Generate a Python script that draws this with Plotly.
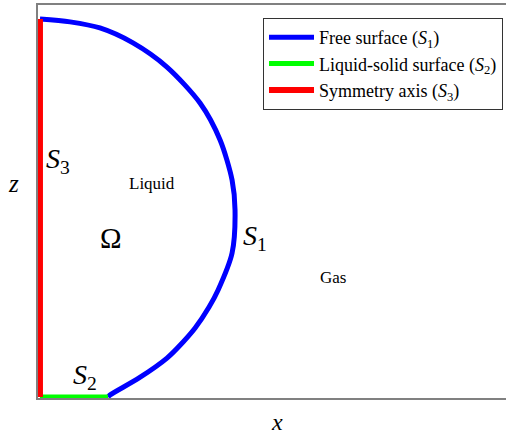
import plotly.graph_objects as go

# Free surface S1, in axis units
s1_x = [0.0, 0.153, 0.305, 0.473, 0.646, 0.814, 0.916, 0.977, 0.992, 0.977, 0.906, 0.860, 0.789, 0.728, 0.646, 0.504, 0.356, 0.346]
s1_z = [1.924, 1.909, 1.878, 1.802, 1.679, 1.496, 1.308, 1.104, 0.952, 0.733, 0.545, 0.458, 0.351, 0.280, 0.198, 0.097, 0.010, 0.0]

# Liquid-solid surface S2
s2_x = [0.0, 0.346]
s2_z = [0.0, 0.0]

# Symmetry axis S3
s3_x = [0.0, 0.0]
s3_z = [0.0, 1.924]

names = ["Free surface (<i>S</i><sub>1</sub>)",
         "Liquid-solid surface (<i>S</i><sub>2</sub>)",
         "Symmetry axis (<i>S</i><sub>3</sub>)"]
colors = ["#0000ff", "#00ff00", "#ff0000"]

# Region labels
label_text = ["<i>S</i><sub>3</sub>", "Liquid", "Ω", "<i>S</i><sub>1</sub>", "Gas", "<i>S</i><sub>2</sub>"]
label_x = [0.092, 0.570, 0.361, 1.094, 1.491, 0.229]
label_z = [1.205, 1.089, 0.809, 0.812, 0.606, 0.105]
label_size = [28, 17, 29, 28, 17, 28]

SERIF = "Liberation Serif, Times New Roman, serif"

fig = go.Figure()
fig.add_trace(go.Scatter(x=s1_x, y=s1_z, mode="lines", name=names[0],
                         line=dict(color=colors[0], width=5, shape="spline", smoothing=0.8)))
fig.add_trace(go.Scatter(x=s2_x, y=s2_z, mode="lines", name=names[1],
                         line=dict(color=colors[1], width=5)))
fig.add_trace(go.Scatter(x=s3_x, y=s3_z, mode="lines", name=names[2],
                         line=dict(color=colors[2], width=6)))

for t, xx, zz, sz in zip(label_text, label_x, label_z, label_size):
    fig.add_annotation(x=xx, y=zz, text=t, showarrow=False,
                       font=dict(family=SERIF, size=sz, color="black"))

# Axis labels
fig.add_annotation(xref="paper", yref="paper", x=-0.0513, y=0.547, text="<i>z</i>",
                   xanchor="center", yanchor="middle",
                   showarrow=False, font=dict(family=SERIF, size=25, color="black"))
fig.add_annotation(xref="paper", yref="paper", x=0.511, y=-0.061, text="<i>x</i>",
                   xanchor="center", yanchor="middle",
                   showarrow=False, font=dict(family=SERIF, size=24, color="black"))

fig.update_layout(
    width=506, height=435,
    margin=dict(l=38, r=0, t=5, b=37),
    paper_bgcolor="white", plot_bgcolor="white",
    font=dict(family=SERIF, color="black"),
    showlegend=True,
    legend=dict(x=0.9936, y=0.967, xanchor="right", yanchor="top",
                bgcolor="white", bordercolor="#333333", borderwidth=1,
                font=dict(family=SERIF, size=18, color="black"),
                itemwidth=45, tracegroupgap=0),
    xaxis=dict(range=[-0.01, 2.37], showgrid=False, zeroline=False,
               showticklabels=False, ticks="", showline=True, mirror=True,
               linecolor="#808080", linewidth=1.5),
    yaxis=dict(range=[-0.005, 1.995], showgrid=False, zeroline=False,
               showticklabels=False, ticks="", showline=True, mirror=False,
               linecolor="#808080", linewidth=1.5),
)

fig.write_html("out.html", config={"displayModeBar": False},
               post_script="document.body.style.margin='0';document.body.style.overflow='hidden';")
